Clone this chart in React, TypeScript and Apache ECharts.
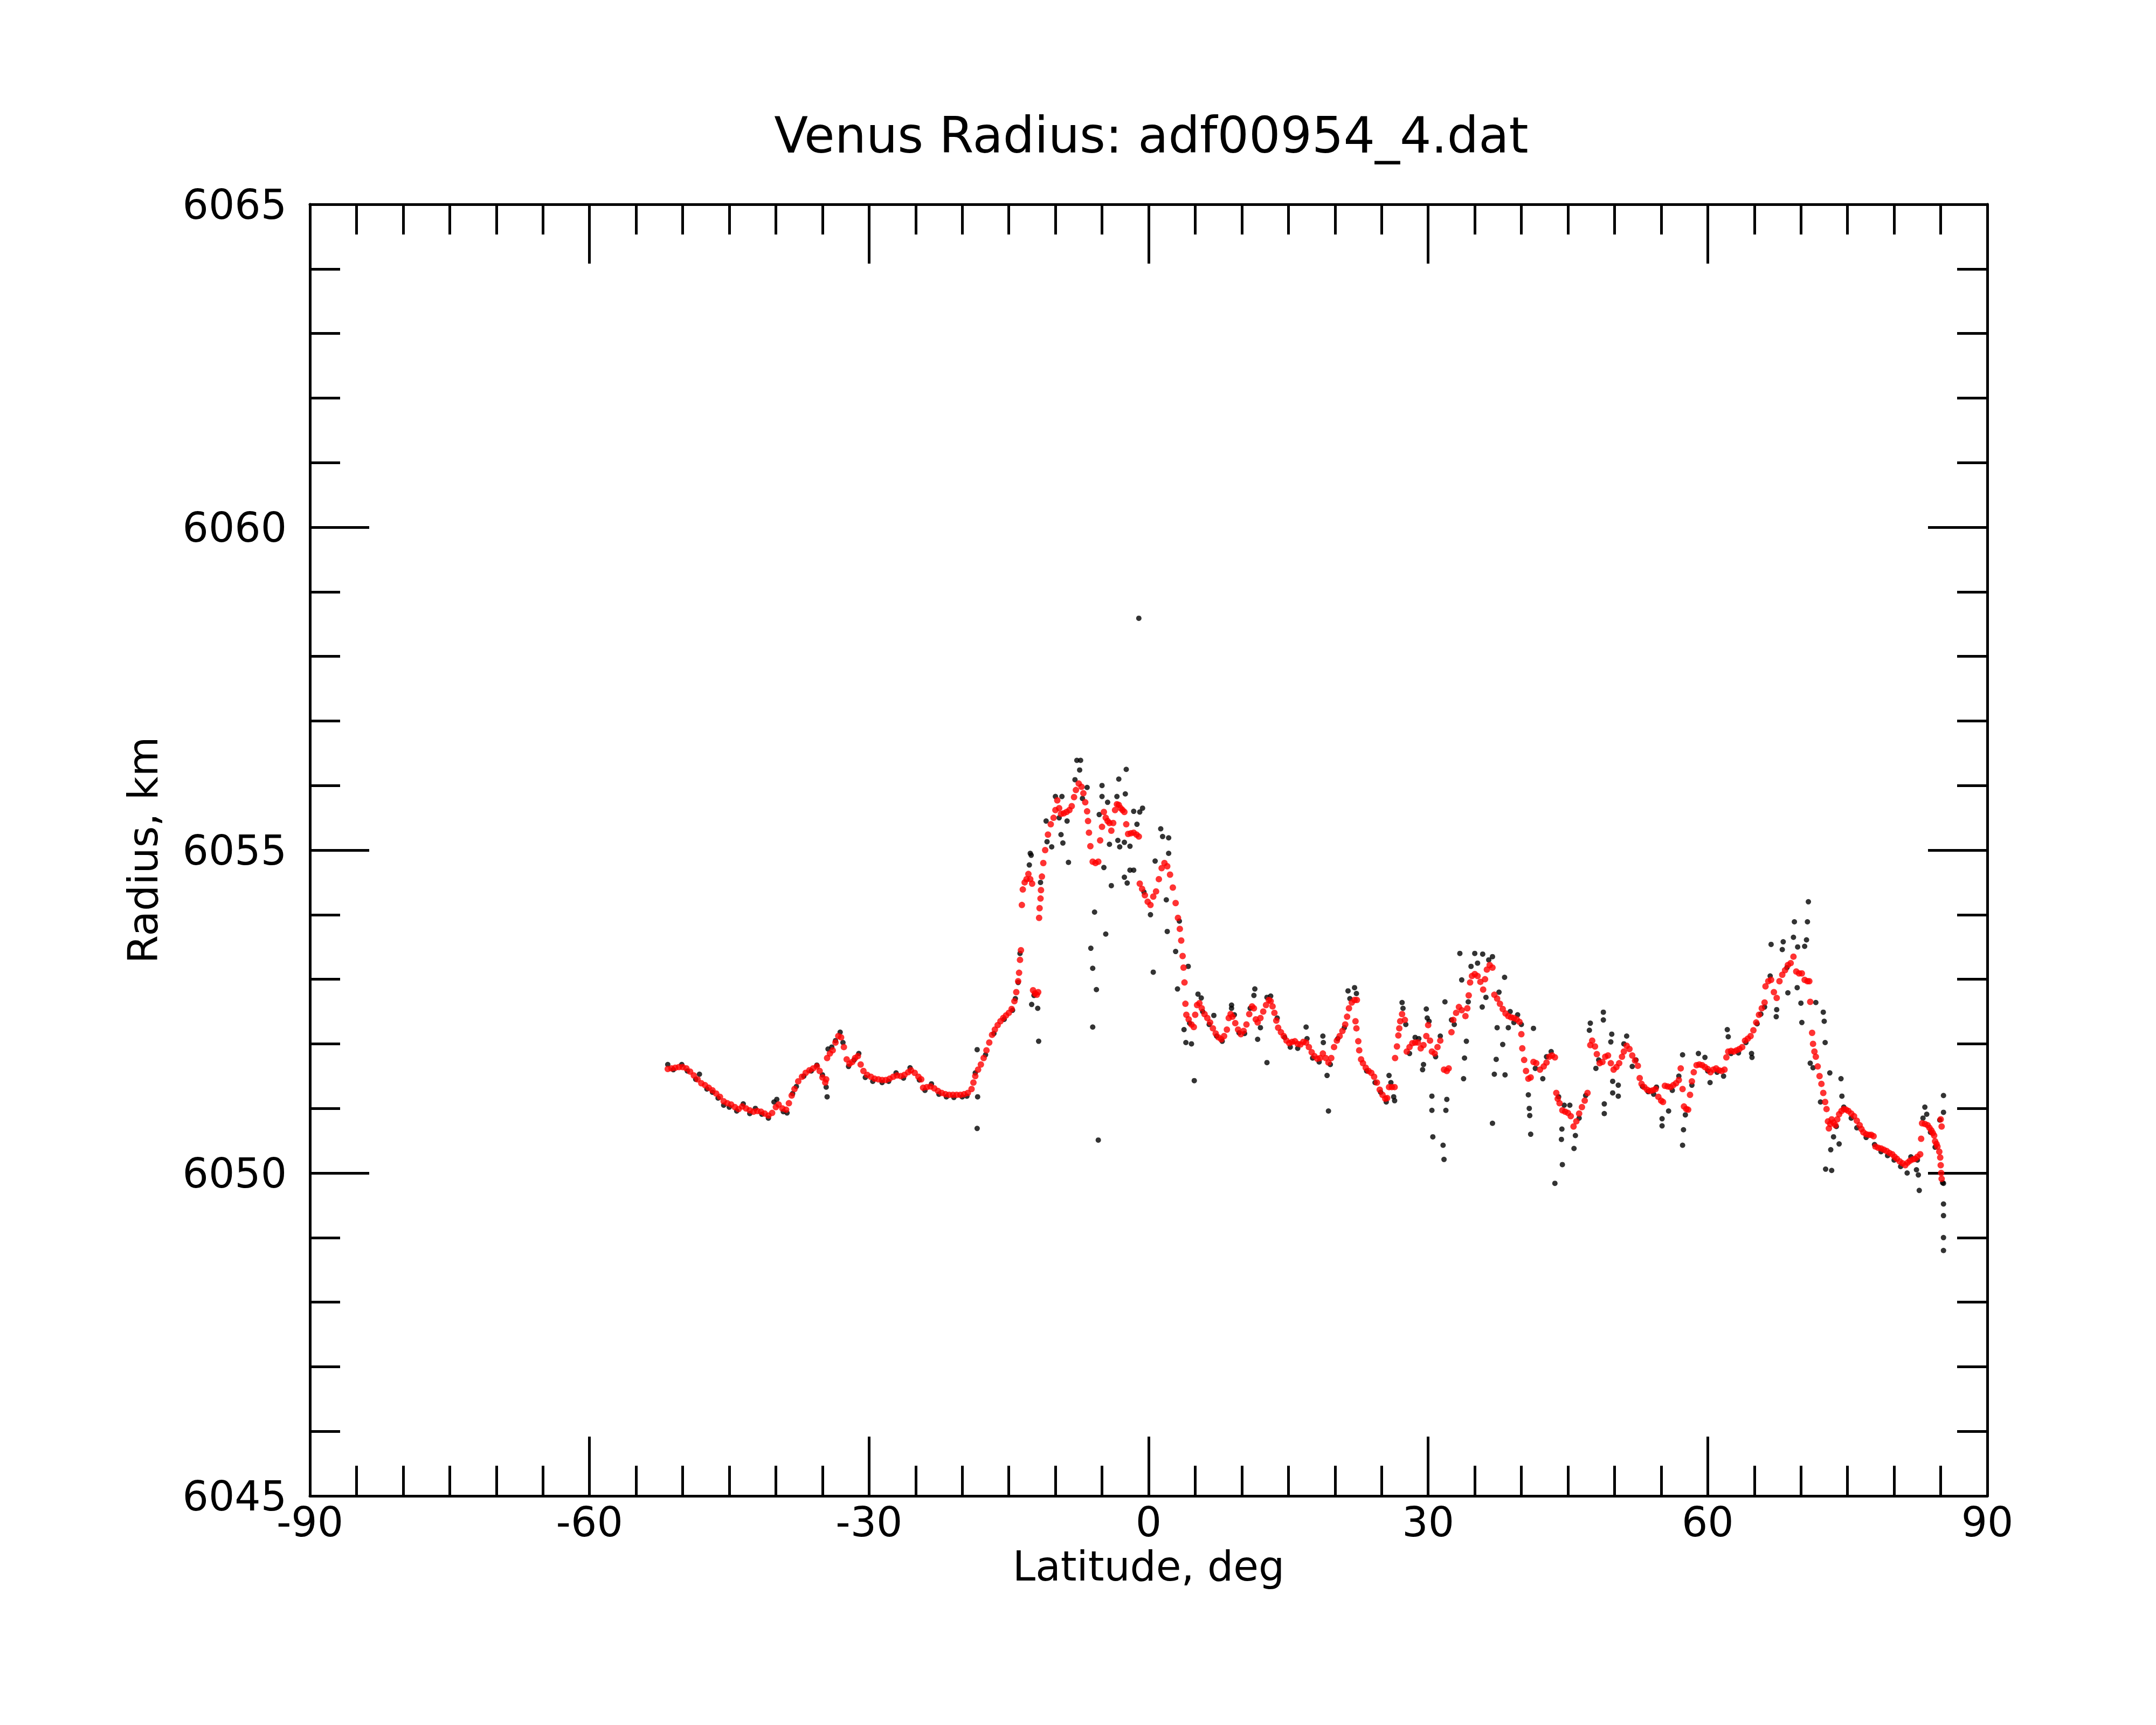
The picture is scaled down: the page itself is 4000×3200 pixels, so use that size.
import React, { useEffect, useRef } from "react";
import * as echarts from "echarts";

const chartTitle = "Venus Radius: adf00954_4.dat";
const xName = "Latitude, deg";
const yName = "Radius, km";
const xMin = -90, xMax = 90, xStep = 30;
const yMin = 6045, yMax = 6065, yStep = 5;

// smoothed radius (red), [latitude, radius]
const redSouth: number[][] = [
  [-51.6,6051.61],[-51.2,6051.62],[-50.8,6051.63],[-50.4,6051.64],[-50.0,6051.64],[-49.6,6051.62],[-49.2,6051.57],[-48.8,6051.51],[-48.4,6051.45],[-48.0,6051.39],[-47.6,6051.36],[-47.2,6051.32],[-46.8,6051.28],[-46.4,6051.23],[-46.0,6051.18],[-45.6,6051.11],[-45.2,6051.08],[-44.8,6051.06],[-44.4,6051.02],[-44.0,6050.99],[-43.6,6051.03],[-43.2,6051.00],[-42.8,6050.97],[-42.4,6050.95],[-42.0,6050.96],[-41.6,6050.95],[-41.2,6050.92],[-40.8,6050.89],[-40.4,6050.93],[-40.0,6051.02],[-39.7,6051.06],[-39.3,6051.00],[-38.9,6050.98],[-38.6,6051.08],[-38.3,6051.20],[-38.0,6051.30],[-37.6,6051.42],[-37.2,6051.49],[-36.8,6051.55],[-36.4,6051.59],[-36.0,6051.62],[-35.6,6051.65],[-35.3,6051.58],[-35.0,6051.48],[-34.7,6051.40],[-34.6,6051.45],
  [-34.5,6051.78],[-34.2,6051.85],[-33.9,6051.90],[-33.6,6052.02],[-33.3,6052.12],[-33.0,6052.10],[-32.7,6051.95],[-32.4,6051.76],[-32.1,6051.69],[-31.8,6051.72],[-31.5,6051.78],[-31.2,6051.81],[-30.9,6051.68],[-30.6,6051.58],[-30.2,6051.52],[-29.8,6051.49],[-29.4,6051.46],[-29.0,6051.45],[-28.6,6051.44],[-28.2,6051.44],[-27.8,6051.46],[-27.4,6051.49],[-27.0,6051.51],[-26.6,6051.50],[-26.2,6051.52],[-25.8,6051.56],[-25.5,6051.59],[-25.1,6051.55],[-24.7,6051.49],[-24.4,6051.45],[-24.2,6051.32],[-23.8,6051.33],[-23.4,6051.34],[-23.0,6051.31],[-22.6,6051.27],[-22.2,6051.24],[-21.8,6051.22],[-21.4,6051.21],[-21.0,6051.21],[-20.6,6051.21],[-20.2,6051.21],[-19.8,6051.22],[-19.4,6051.24],[-19.0,6051.30],[-18.8,6051.40],[-18.6,6051.50],[-18.3,6051.60],[-18.0,6051.68],[-17.7,6051.78],[-17.4,6051.90],[-17.1,6052.02],[-16.8,6052.14],[-16.5,6052.22],[-16.2,6052.29],[-15.9,6052.35],[-15.6,6052.40],[-15.3,6052.44],[-15.0,6052.48],[-14.7,6052.54],[-14.4,6052.66],[-14.2,6052.80],[-14.0,6052.97],[-13.9,6053.10],[-13.8,6053.30],[-13.7,6053.45]
];

const redPeak: number[][] = [
  [-13.6,6054.15],[-13.5,6054.39],[-13.3,6054.50],[-13.1,6054.55],[-12.9,6054.63],[-12.7,6054.55],[-12.5,6054.48],[-12.4,6052.83],[-12.2,6052.78],[-12.0,6052.76],[-11.85,6052.80],[-11.75,6053.95],[-11.7,6054.10],[-11.6,6054.25],[-11.55,6054.38],[-11.45,6054.59],[-11.3,6054.80],[-11.1,6055.00],[-10.8,6055.24],[-10.5,6055.40],[-10.2,6055.50],[-10.0,6055.62],[-9.8,6055.77],[-9.6,6055.65],[-9.4,6055.56],[-9.1,6055.57],[-8.8,6055.59],[-8.5,6055.62],[-8.25,6055.68],[-8.0,6055.82],[-7.8,6055.93],[-7.5,6056.03],[-7.2,6055.98],[-7.0,6055.88],[-6.8,6055.74],[-6.6,6055.60],[-6.5,6055.45],[-6.4,6055.27],[-6.25,6055.06],[-6.0,6054.82],[-5.7,6054.80],[-5.4,6054.82],[-5.2,6055.15],[-5.0,6055.36],[-4.8,6055.59],[-4.6,6055.50],[-4.4,6055.45],[-4.2,6055.42],[-4.0,6055.30],[-3.8,6055.42],[-3.6,6055.62],[-3.4,6055.71],[-3.2,6055.70],[-3.0,6055.65],[-2.8,6055.62],[-2.6,6055.59],[-2.4,6055.40],[-2.2,6055.25],[-1.9,6055.26],[-1.6,6055.27],[-1.3,6055.24],[-1.05,6055.21],[-0.95,6054.48],[-0.7,6054.40],[-0.4,6054.30],[-0.1,6054.20],[0.2,6054.15],[0.5,6054.28],[0.8,6054.36],[1.1,6054.55],[1.4,6054.72],[1.7,6054.80],[2.0,6054.75],[2.3,6054.62],[2.6,6054.42],[2.9,6054.18],[3.15,6053.95],[3.35,6053.78],[3.5,6053.60],[3.65,6053.36],[3.75,6053.18],[3.85,6052.95],[3.95,6052.62],[4.05,6052.45]
];

const redMid: number[][] = [
  [4.3,6052.38],[4.6,6052.30],[4.85,6052.26],[5.0,6052.45],[5.2,6052.60],[5.45,6052.63],[5.7,6052.55],[6.0,6052.46],[6.3,6052.40],[6.6,6052.33],[6.9,6052.24],[7.2,6052.16],[7.5,6052.10],[7.8,6052.07],[8.1,6052.12],[8.4,6052.22],[8.6,6052.40],[8.8,6052.46],[9.0,6052.42],[9.3,6052.32],[9.6,6052.22],[9.9,6052.15],[10.2,6052.20],[10.5,6052.30],[10.8,6052.46],[11.1,6052.58],[11.3,6052.55],[11.5,6052.38],[11.7,6052.33],[12.0,6052.40],[12.3,6052.50],[12.6,6052.60],[12.9,6052.68],[13.1,6052.66],[13.3,6052.58],[13.5,6052.48],[13.7,6052.36],[13.9,6052.25],[14.2,6052.18],[14.5,6052.12],[14.8,6052.05],[15.1,6052.01],[15.4,6052.03],[15.7,6052.04],[16.0,6052.00],[16.3,6051.99],[16.6,6052.03],[16.9,6052.02],[17.2,6051.95],[17.5,6051.87],[17.8,6051.81],[18.1,6051.77],[18.4,6051.78],[18.7,6051.85],[19.0,6051.78],[19.3,6051.71],[19.6,6051.78],[19.9,6051.95],[20.2,6052.05],[20.5,6052.12],[20.8,6052.20],[21.1,6052.30],[21.3,6052.42],[21.5,6052.55],[21.8,6052.64],[22.1,6052.68],[22.35,6052.68],[22.2,6052.35],[22.3,6052.24],[22.5,6052.04],[22.6,6051.90],[22.8,6051.76],[23.0,6051.70],[23.3,6051.63],[23.6,6051.58],[23.9,6051.55],[24.2,6051.49],[24.5,6051.40],[24.8,6051.29],[25.1,6051.21],[25.4,6051.15],[25.6,6051.16],[25.8,6051.33],[26.1,6051.33],[26.4,6051.33],[26.45,6051.78],[26.65,6051.96],[26.8,6052.13],[26.9,6052.24],[27.0,6052.35],[27.2,6052.46],[27.5,6052.37],[27.7,6051.88],[28.0,6051.95],[28.3,6052.01],[28.6,6052.02],[28.9,6052.02],[29.2,6051.93],[29.5,6051.98],[29.8,6052.12],[30.0,6052.29],[30.2,6052.05],[30.4,6051.88],[30.7,6051.85],[31.0,6051.95],[31.3,6052.05],[31.7,6051.60],[32.0,6051.58],[32.2,6051.62],[32.5,6052.18],[32.7,6052.37],[33.0,6052.48],[33.3,6052.57],[33.6,6052.52],[34.0,6052.43],[34.2,6052.55],[34.35,6052.75],[34.5,6052.95],[34.7,6053.05],[35.0,6053.08],[35.3,6053.05],[35.6,6052.96],[35.9,6052.84],[36.1,6053.00],[36.3,6053.15],[36.6,6053.22],[36.9,6053.18],[37.1,6052.76],[37.4,6052.70],[37.7,6052.62],[38.0,6052.54],[38.3,6052.47],[38.6,6052.43],[38.9,6052.41],[39.2,6052.40],[39.5,6052.38],[39.8,6052.34],[40.0,6052.15],[40.1,6051.93],[40.3,6051.75],[40.5,6051.58],[40.75,6051.46],[41.0,6051.48],[41.3,6051.72],[41.6,6051.70],[42.0,6051.60],[42.4,6051.65],[42.7,6051.71],[43.0,6051.80],[43.3,6051.82],[43.6,6051.79],[43.75,6051.24],[43.9,6051.15],[44.1,6051.08],[44.4,6050.97],[44.7,6050.95],[45.0,6050.93],[45.3,6050.88],[45.6,6050.72],[45.9,6050.80],[46.2,6050.92],[46.5,6051.02],[46.8,6051.12],[47.1,6051.24]
];

const redNorth: number[][] = [
  [47.4,6051.98],[47.6,6052.05],[47.9,6051.96],[48.1,6051.84],[48.4,6051.70],[48.7,6051.72],[49.0,6051.80],[49.3,6051.82],[49.6,6051.70],[49.9,6051.60],[50.2,6051.64],[50.5,6051.70],[50.8,6051.80],[51.0,6051.88],[51.3,6051.97],[51.6,6051.92],[51.9,6051.82],[52.2,6051.74],[52.5,6051.66],[52.7,6051.47],[52.9,6051.38],[53.2,6051.33],[53.5,6051.29],[53.8,6051.27],[54.1,6051.28],[54.4,6051.30],[54.7,6051.18],[55.0,6051.12],[55.2,6051.10],[55.4,6051.35],[55.7,6051.34],[56.0,6051.33],[56.3,6051.36],[56.6,6051.39],[56.9,6051.44],[57.1,6051.62],[57.3,6051.30],[57.45,6051.03],[57.7,6050.99],[57.9,6050.98],[58.1,6051.21],[58.3,6051.42],[58.5,6051.56],[58.8,6051.67],[59.1,6051.68],[59.4,6051.67],[59.7,6051.64],[60.0,6051.61],[60.3,6051.56],[60.6,6051.60],[60.9,6051.62],[61.2,6051.59],[61.5,6051.58],[61.8,6051.60],[62.0,6051.79],[62.2,6051.88],[62.5,6051.89],[62.8,6051.88],[63.1,6051.90],[63.4,6051.92],[63.7,6051.95],[64.0,6052.05],[64.3,6052.08],[64.6,6052.12],[64.9,6052.21],[65.2,6052.33],[65.5,6052.45],[65.8,6052.55],[66.1,6052.64],[66.2,6052.89],[66.5,6052.97],[66.8,6052.99],[67.1,6052.80],[67.4,6052.71],[67.7,6052.97],[68.0,6053.07],[68.3,6053.14],[68.6,6053.22],[68.9,6053.25],[69.2,6053.35],[69.5,6053.12],[69.8,6053.09],[70.1,6053.09],[70.4,6052.99],[70.7,6052.97],[70.9,6052.97],[71.0,6052.65],[71.2,6052.17],[71.3,6052.00],[71.45,6051.88],[71.6,6051.80],[71.8,6051.65],[72.0,6051.50],[72.2,6051.38],[72.4,6051.24],[72.6,6051.10],
  [72.75,6050.99],[72.9,6050.80],[73.0,6050.69],[73.15,6050.76],[73.3,6050.83],[73.5,6050.78],[73.7,6050.74],[73.9,6050.83],[74.1,6050.91],[74.35,6050.96],[74.6,6050.99],[74.85,6050.98],[75.1,6050.96],[75.4,6050.92],[75.7,6050.88],[76.0,6050.81],[76.3,6050.74],[76.5,6050.68],[76.7,6050.63],[77.0,6050.60],[77.3,6050.59],[77.55,6050.59],[77.8,6050.57],[78.0,6050.41],[78.3,6050.39],[78.6,6050.38],[78.9,6050.36],[79.2,6050.34],[79.5,6050.31],[79.8,6050.29],[80.05,6050.25],[80.3,6050.22],[80.6,6050.18],[80.9,6050.15],[81.2,6050.12],[81.45,6050.16],[81.7,6050.19],[82.0,6050.21],[82.25,6050.22],[82.5,6050.25],[82.8,6050.29],[82.9,6050.53],[83.0,6050.77],[83.3,6050.76],[83.6,6050.74],[83.8,6050.70],[84.0,6050.66],[84.15,6050.62],[84.3,6050.58],[84.4,6050.49],[84.55,6050.45],[84.65,6050.41],[84.85,6050.33],[84.95,6050.24],[85.0,6050.12],[85.05,6050.00],[85.1,6049.91],[85.0,6050.83],[85.1,6050.72]
];

// raw radius (black), [latitude, radius]
const blackSouth: number[][] = [
  [-51.6,6051.68],[-51.0,6051.60],[-50.1,6051.68],[-49.5,6051.58],[-48.6,6051.45],[-48.2,6051.53],[-47.4,6051.30],[-46.8,6051.25],[-46.2,6051.16],[-45.6,6051.05],[-45.0,6051.02],[-44.2,6050.96],[-43.5,6051.07],[-42.8,6050.92],[-42.2,6051.00],[-41.5,6050.91],[-40.8,6050.85],[-40.2,6051.10],[-39.9,6051.14],[-39.2,6050.95],[-38.8,6050.93],[-38.2,6051.23],[-37.8,6051.34],[-37.0,6051.50],[-36.2,6051.58],[-35.6,6051.67],[-35.0,6051.52],[-34.6,6051.33],[-34.5,6051.18],[-34.4,6051.92],[-34.0,6051.95],[-33.6,6052.05],[-33.1,6052.18],[-32.8,6052.02],[-32.2,6051.65],[-31.6,6051.75],[-31.1,6051.85],[-30.4,6051.48],[-29.6,6051.42],[-28.6,6051.40],[-27.9,6051.42],[-27.1,6051.55],[-26.3,6051.47],[-25.6,6051.63],[-24.6,6051.44],[-24.0,6051.28],[-23.3,6051.38],[-22.5,6051.22],[-21.7,6051.18],[-20.9,6051.17],[-20.0,6051.18],[-19.5,6051.19],[-18.4,6051.91],[-18.35,6051.18],[-18.4,6050.69],[-18.6,6051.55],[-17.5,6051.83],[-16.6,6052.16],[-15.5,6052.38],[-14.6,6052.52],[-14.3,6052.70]
];

const blackPeak: number[][] = [
  [-14.0,6052.95],[-13.8,6053.40],[-12.8,6054.77],[-12.7,6054.95],[-12.6,6054.92],[-12.55,6052.61],[-11.9,6052.55],[-11.8,6052.04],[-12.3,6052.75],[-11.6,6054.50],[-11.0,6055.45],[-10.9,6055.13],[-10.4,6055.05],[-10.0,6055.83],[-9.6,6055.50],[-9.4,6055.24],[-9.3,6055.83],[-9.2,6055.11],[-8.75,6055.45],[-8.6,6054.81],[-7.9,6056.09],[-7.7,6056.39],[-7.4,6056.24],[-7.3,6056.39],[-7.1,6055.80],[-6.6,6055.97],[-6.2,6053.48],[-6.0,6053.17],[-6.0,6052.26],[-5.8,6054.04],[-5.6,6052.84],[-5.4,6050.51],[-5.3,6055.55],[-5.0,6056.00],[-5.0,6055.83],[-4.8,6054.73],[-4.6,6053.70],[-4.4,6055.74],[-4.2,6055.09],[-4.0,6054.45],[-3.4,6055.83],[-3.3,6055.15],[-3.2,6056.10],[-3.1,6055.05],[-2.6,6055.12],[-2.6,6054.58],[-2.5,6055.87],[-2.4,6056.25],[-2.3,6054.49],[-2.0,6055.06],[-2.0,6054.69],[-1.6,6055.60],[-1.6,6054.69],[-1.25,6055.40],[-1.05,6058.59],[-0.95,6055.59],[-0.65,6055.65],[-0.5,6054.35],[0.2,6054.00],[0.5,6053.11],[0.7,6054.83],[1.3,6055.33],[1.5,6055.21],[1.9,6054.23],[2.0,6053.74],[2.15,6055.19],[2.15,6054.95],[2.9,6053.43],[3.1,6052.85],[3.3,6053.90],[3.8,6052.22],[4.0,6052.02],[4.25,6053.20],[4.6,6052.00],[4.9,6051.43],[5.65,6052.71],[7.0,6052.44],[8.9,6052.55]
];

const blackMid: number[][] = [
  [4.4,6052.32],[5.3,6052.77],[5.8,6052.50],[6.5,6052.30],[7.3,6052.12],[7.9,6052.04],[8.9,6052.60],[9.2,6052.45],[9.7,6052.17],[10.3,6052.16],[10.9,6052.55],[11.4,6052.85],[11.3,6052.75],[11.7,6052.07],[12.0,6052.25],[12.7,6051.71],[12.7,6052.72],[13.1,6052.74],[13.8,6052.40],[14.6,6052.10],[15.2,6051.95],[16.0,6051.93],[16.9,6052.26],[17.0,6052.08],[17.6,6051.78],[18.3,6051.72],[18.7,6052.12],[18.75,6052.02],[19.15,6051.51],[19.3,6050.96],[19.5,6051.68],[20.3,6052.08],[21.0,6052.25],[21.4,6052.82],[21.6,6052.70],[22.1,6052.87],[22.3,6052.78],[23.4,6051.58],[24.3,6051.40],[24.9,6051.25],[25.5,6051.10],[25.8,6051.51],[26.0,6051.40],[26.4,6051.12],[26.3,6051.18],
  [27.2,6052.64],[27.3,6052.55],[27.6,6052.30],[28.0,6051.85],[28.6,6052.10],[29.0,6052.08],[29.4,6051.60],[29.5,6051.68],[29.8,6052.54],[29.9,6052.40],[30.1,6052.35],[30.4,6051.19],[30.4,6050.97],[30.5,6050.56],[30.8,6051.80],[31.3,6052.12],[31.8,6052.65],[31.9,6050.97],[32.0,6051.14],[31.6,6050.43],[31.7,6050.21],[32.5,6052.37],[32.8,6052.30],[33.4,6053.40],[33.6,6052.99],[33.8,6051.46],[33.9,6051.78],[34.1,6052.04],[34.3,6052.65],[34.6,6053.20],[35.0,6053.40],[35.3,6053.25],[35.8,6052.57],[35.85,6053.39],[36.2,6052.72],[36.5,6053.30],[36.9,6053.35],[36.9,6050.77],[37.1,6051.53],[37.3,6051.76],[37.4,6052.25],[37.6,6052.80],[38.0,6051.99],[38.2,6053.03],[38.25,6051.52],[38.6,6052.25],[38.8,6052.50],[39.2,6052.33],[39.6,6052.45],[40.0,6052.30],[40.75,6051.21],[40.85,6051.00],[40.9,6050.89],[41.0,6050.60],[41.3,6052.24],[41.5,6051.62],[42.3,6051.46],[42.7,6051.80],[43.2,6051.88],[43.6,6049.84],[44.0,6051.18],[44.3,6050.52],[44.35,6050.68],[44.4,6050.13],[44.6,6051.05],[45.2,6051.05],[45.65,6050.38],[45.8,6050.58],[46.2,6050.85],[46.9,6051.20],[47.3,6052.21],[47.4,6052.32]
];

const blackNorth: number[][] = [
  [48.0,6051.62],[48.3,6051.75],[48.8,6052.37],[48.8,6052.49],[48.9,6050.92],[48.9,6051.07],[49.6,6052.03],[49.7,6052.15],[49.8,6051.24],[49.8,6051.42],[50.4,6051.19],[50.4,6051.36],[51.0,6052.00],[51.3,6052.12],[51.9,6051.65],[52.3,6051.75],
  [53.0,6051.34],[53.6,6051.26],[54.2,6051.22],[54.5,6051.33],[55.1,6050.84],[55.1,6050.73],[55.8,6050.96],[56.2,6051.28],[56.9,6051.50],[57.3,6051.83],[57.3,6050.43],[57.4,6050.67],[57.6,6050.90],[58.3,6051.36],[59.0,6051.85],[59.7,6051.79],[60.0,6051.58],[60.25,6051.40],[61.0,6051.56],[61.7,6051.50],[62.1,6052.22],[62.2,6052.11],[62.5,6051.85],[63.3,6051.86],[64.1,6052.02],[64.7,6051.85],[64.75,6051.79],[65.3,6052.31],[65.7,6052.46],[66.1,6052.57],[66.7,6053.05],[66.8,6053.54],[67.35,6052.42],[67.4,6052.53],[68.0,6053.46],[68.1,6053.58],[68.5,6053.18],[68.6,6052.79],[69.2,6053.65],[69.3,6053.89],[69.6,6052.87],[69.65,6053.50],[70.0,6052.63],[70.1,6052.33],[70.4,6053.51],[70.8,6054.20],[70.6,6053.61],[70.7,6053.89],[71.0,6051.70],[71.6,6052.64],[72.1,6051.10],[72.4,6052.49],[72.5,6052.35],[72.6,6052.02],
  [71.3,6051.63],[73.1,6051.55],[74.3,6051.46],[74.4,6051.19],[72.65,6050.06],[73.3,6050.04],[73.2,6050.36],[74.1,6050.45],[73.5,6050.56],[83.3,6051.02],[83.5,6050.91],[82.7,6049.73],[82.6,6049.97],[81.4,6050.00],[85.3,6051.20],[85.3,6050.94],[85.3,6049.84],[85.3,6049.52],[85.3,6049.34],[85.3,6049.00],[85.3,6048.80],
  [73.8,6050.72],[74.6,6051.02],[75.4,6050.85],[76.0,6050.70],[77.0,6050.55],[77.9,6050.44],[78.6,6050.33],[79.3,6050.27],[80.0,6050.20],[80.7,6050.10],[81.8,6050.25],[82.4,6050.05],[82.5,6050.20],[83.1,6050.85],[83.9,6050.63],[84.4,6050.40],[84.9,6050.82],[85.2,6049.85]
];

const FONT = "DejaVu Sans";

export default function App() {
  const ref = useRef<HTMLDivElement>(null);
  useEffect(() => {
    document.body.style.margin = "0";
    const chart = echarts.init(ref.current!, undefined, { renderer: "svg" });
    const axisLine = { show: true, onZero: false, lineStyle: { color: "#000", width: 5 } };
    const tick = { show: true, inside: true, length: 110, lineStyle: { color: "#000", width: 5 } };
    const minor = (n: number) => ({ show: true, splitNumber: n, length: 56, lineStyle: { color: "#000", width: 5 } });
    const xBase = { type: "value", min: xMin, max: xMax, interval: xStep, splitLine: { show: false }, axisLine, axisTick: tick, minorTick: minor(6) };
    const yBase = { type: "value", min: yMin, max: yMax, interval: yStep, splitLine: { show: false }, axisLine, axisTick: tick, minorTick: minor(5) };
    const black = [...blackSouth, ...blackPeak, ...blackMid, ...blackNorth];
    const red = [...redSouth, ...redPeak, ...redMid, ...redNorth];
    chart.setOption({
      animation: false,
      backgroundColor: "#fff",
      textStyle: { fontFamily: FONT },
      grid: { left: 575, right: 313, top: 379, bottom: 425, containLabel: false },
      graphic: [
        { type: "text", x: 2136, y: 251, style: { text: chartTitle, fontFamily: FONT, fontSize: 92, fill: "#000", align: "center", verticalAlign: "middle" } },
      ],
      xAxis: [
        { ...xBase, position: "bottom", name: xName, nameLocation: "middle", nameGap: 92,
          nameTextStyle: { fontFamily: FONT, fontSize: 76, color: "#000" },
          axisLabel: { show: true, margin: 10, fontFamily: FONT, fontSize: 76, color: "#000", formatter: (v: number) => String(v) } },
        { ...xBase, position: "top", axisLabel: { show: false } },
      ],
      yAxis: [
        { ...yBase, position: "left", name: yName, nameLocation: "middle", nameGap: 272,
          nameTextStyle: { fontFamily: FONT, fontSize: 76, color: "#000" },
          axisLabel: { show: true, margin: 43, fontFamily: FONT, fontSize: 76, color: "#000", formatter: (v: number) => String(v) } },
        { ...yBase, position: "right", axisLabel: { show: false } },
      ],
      series: [
        { type: "scatter", name: "raw", xAxisIndex: 0, yAxisIndex: 0, data: black, symbol: "circle", symbolSize: 10, itemStyle: { color: "#000" }, silent: true },
        { type: "scatter", name: "smoothed", xAxisIndex: 0, yAxisIndex: 0, data: red, symbol: "circle", symbolSize: 12, itemStyle: { color: "#ff0000" }, silent: true },
      ],
    });
    return () => chart.dispose();
  }, []);
  return <div ref={ref} style={{ width: 4000, height: 3200 }} />;
}
